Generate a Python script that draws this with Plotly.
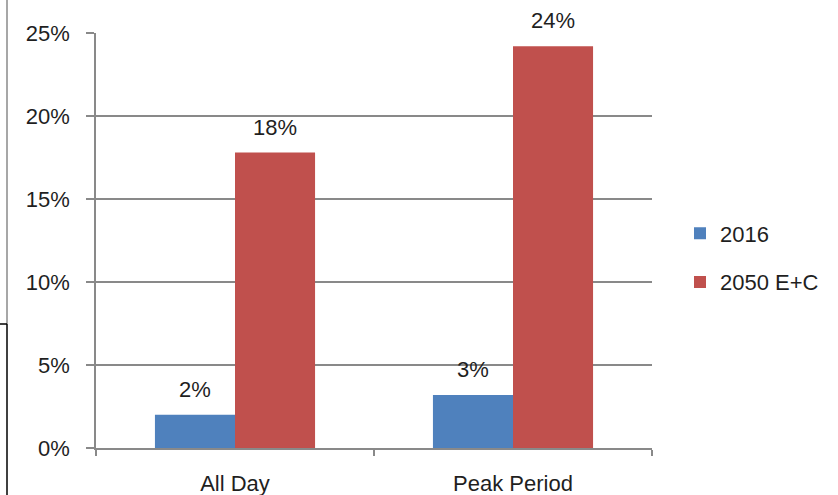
import plotly.graph_objects as go

categories = ["All Day", "Peak Period"]
series_names = ["2016", "2050 E+C"]
values_2016 = [2.0, 3.2]
values_2050 = [17.8, 24.2]
y_ticks = [0, 5, 10, 15, 20, 25]

BLUE = "#4F81BD"
RED = "#C0504D"
GRID = "#898989"
FONT = "Liberation Sans"
TXT = "#1f1f1f"

fig = go.Figure()
fig.add_trace(go.Bar(name=series_names[0], x=categories, y=values_2016,
                     marker=dict(color=BLUE, line=dict(width=0)), legendgroup="a"))
fig.add_trace(go.Bar(name=series_names[1], x=categories, y=values_2050,
                     marker=dict(color=RED, line=dict(width=0)), legendgroup="b"))

W, H = 838, 495
L, R, T, B = 96, 186, 33, 47
pw, ph = W - L - R, H - T - B
bar_w = 80

for vals, sh in ((values_2016, -bar_w / 2), (values_2050, bar_w / 2)):
    for c, v in zip(categories, vals):
        fig.add_annotation(x=c, y=v, xref="x", yref="y", text=f"{round(v)}%",
                           showarrow=False, yanchor="bottom", xshift=sh, yshift=11,
                           font=dict(family=FONT, size=22, color=TXT))

def px(xp):
    return (xp - L) / pw
def py(yp):
    return (H - B - yp) / ph

fig.add_shape(type="line", xref="paper", yref="paper", x0=px(7), x1=px(7), y0=py(0), y1=py(324),
              line=dict(color="#8a8a8a", width=1.5))
fig.add_shape(type="line", xref="paper", yref="paper", x0=px(7), x1=px(7), y0=py(324), y1=py(500),
              line=dict(color="#000000", width=1.5))
fig.add_shape(type="line", xref="paper", yref="paper", x0=px(-2), x1=px(7), y0=py(324), y1=py(324),
              line=dict(color="#000000", width=1.5))

fig.update_layout(
    width=W, height=H,
    margin=dict(l=L, r=R, t=T, b=B, pad=0, autoexpand=False),
    paper_bgcolor="white", plot_bgcolor="white",
    barmode="group", bargap=0.424, bargroupgap=0,
    font=dict(family=FONT, size=22, color=TXT),
    showlegend=True,
    legend=dict(x=px(680), y=py(258), xanchor="left", yanchor="middle",
                traceorder="grouped", tracegroupgap=17,
                font=dict(family=FONT, size=22, color=TXT), bgcolor="rgba(0,0,0,0)"),
    xaxis=dict(showline=True, linecolor=GRID, linewidth=1.5, ticks="outside", tickson="boundaries",
               ticklen=6, tickcolor=GRID, tickwidth=1.5, showgrid=False, automargin=False,
               ticklabelstandoff=15, tickfont=dict(family=FONT, size=22, color=TXT)),
    yaxis=dict(range=[0, 25], tickvals=y_ticks, ticktext=[f"{t}%" for t in y_ticks],
               showline=True, linecolor=GRID, linewidth=1.5, ticks="outside", ticklen=8,
               tickcolor=GRID, tickwidth=1.5, showgrid=True, gridcolor=GRID, gridwidth=1.5,
               zeroline=False, automargin=False, ticklabelstandoff=12,
               tickfont=dict(family=FONT, size=22, color=TXT)),
)

fig.write_html("out.html")
